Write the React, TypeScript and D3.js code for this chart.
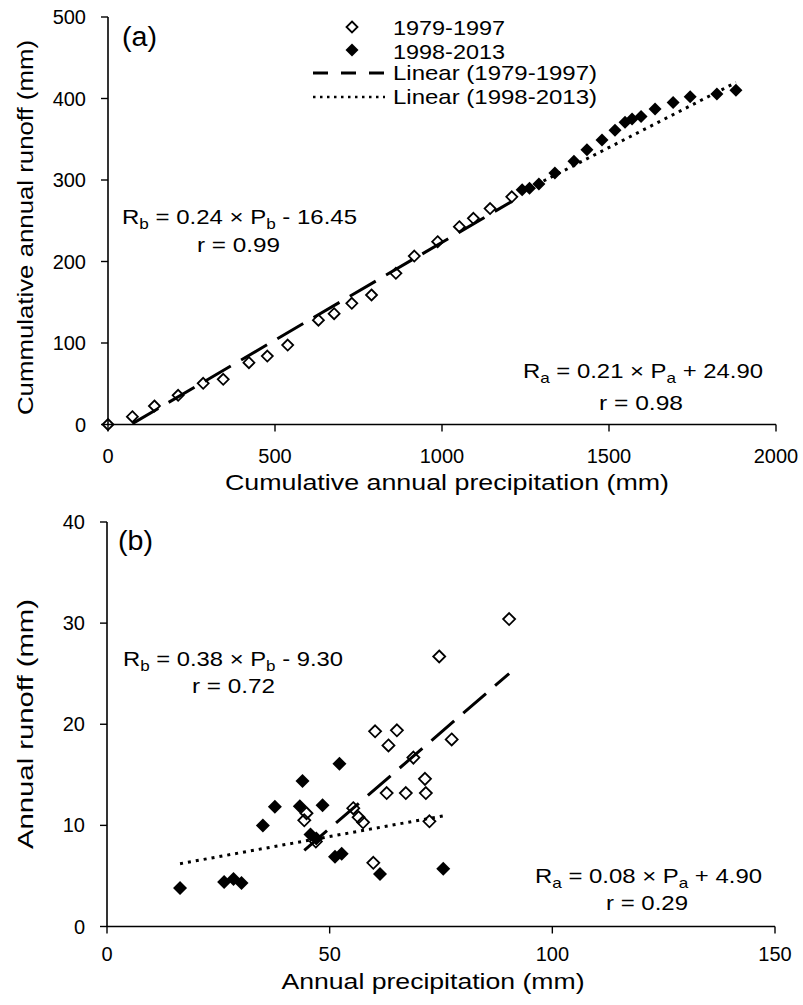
import React from 'react';
import * as d3 from 'd3';

// ---------- DATA ----------
// Panel (a): cumulative annual precipitation vs cumulative annual runoff (mm)
const cumPrecipEarly = [0, 73, 139, 210, 285, 345, 422, 477, 538, 630, 677, 730, 789, 862, 917, 987, 1052, 1094, 1144, 1209];
const cumRunoffEarly = [0, 9.6, 22.7, 35.8, 50.5, 55.4, 75.9, 84, 97.5, 128, 136, 148.7, 158.9, 185.5, 206.7, 224.3, 242.7, 253, 265, 279.4];
const cumPrecipLate = [1240, 1262, 1290, 1338, 1395, 1434, 1479, 1518, 1548, 1569, 1596, 1638, 1692, 1743, 1823, 1880];
const cumRunoffLate = [288, 290, 295, 308.6, 323, 337, 349, 361, 371, 375, 378, 387, 395, 402, 405.5, 410];

// Panel (b): annual precipitation vs annual runoff (mm)
const annPrecipEarly = [74.6, 60.2, 65.1, 63.2, 68.8, 71.4, 71.6, 67.1, 62.8, 72.4, 56.5, 57.5, 55.3, 44.8, 44.3, 46.9, 59.8, 90.3, 77.4];
const annRunoffEarly = [26.7, 19.3, 19.4, 17.9, 16.7, 14.6, 13.2, 13.2, 13.2, 10.4, 10.8, 10.3, 11.7, 11.2, 10.5, 8.4, 6.3, 30.4, 18.5];
const annPrecipLate = [16.4, 26.3, 28.4, 30.2, 35.0, 37.7, 43.9, 43.3, 48.4, 52.2, 45.7, 47.0, 51.2, 52.7, 61.3, 75.5];
const annRunoffLate = [3.8, 4.4, 4.7, 4.3, 10.0, 11.85, 14.4, 11.9, 12.0, 16.1, 9.1, 8.7, 6.9, 7.2, 5.2, 5.7];

// Linear fits [early, late]
const slopesA = [0.24, 0.21];
const interceptsA = [-16.45, 24.9];
const slopesB = [0.38, 0.08];
const interceptsB = [-9.3, 4.9];

// Ticks
const ticksAX = [0, 500, 1000, 1500, 2000];
const ticksAY = [0, 100, 200, 300, 400, 500];
const ticksBX = [0, 50, 100, 150];
const ticksBY = [0, 10, 20, 30, 40];

const legendLabels = ['1979-1997', '1998-2013', 'Linear (1979-1997)', 'Linear (1998-2013)'];

// ---------- STYLE ----------
const FONT = '"Liberation Sans", Arial, Helvetica, sans-serif';
const DASH = '30 12';
const DOT = '3 5';

const diamond = (r: number) => `M0,${-r}L${r},0L0,${r}L${-r},0Z`;

type Pt = [number, number];
const zip = (xs: number[], ys: number[]): Pt[] => xs.map((x, i) => [x, ys[i]]);

function Eq({ x, y, sub, rest, sign, len }: { x: number; y: number; sub: string; rest: [string, string]; sign: string; len: number }) {
  return (
    <text x={x} y={y} fontSize={21} fontFamily={FONT} textLength={len} lengthAdjust="spacingAndGlyphs">
      R<tspan fontSize={15} dy={5}>{sub}</tspan>
      <tspan dy={-5}>{rest[0]}</tspan>
      <tspan fontSize={15} dy={5}>{sub}</tspan>
      <tspan dy={-5}>{` ${sign} ${rest[1]}`}</tspan>
    </text>
  );
}

function Panel({
  xDomain, xRange, yDomain, yRange, xTicks, yTicks,
  early, late, slopes, intercepts, earlyFitX, lateFitX,
  rOpen, rFilled, xLabelY, label, labelPos,
}: any) {
  const x = d3.scaleLinear().domain(xDomain).range(xRange);
  const y = d3.scaleLinear().domain(yDomain).range(yRange);
  const line = d3.line<Pt>().x(d => x(d[0])).y(d => y(d[1]));
  const fitPts = (ext: number[], k: number, b: number): Pt[] => ext.map(v => [v, k * v + b]);
  const y0 = y(yDomain[0]);
  const x0 = x(xDomain[0]);
  return (
    <g>
      {/* axes */}
      <line x1={x0} x2={x(xDomain[1])} y1={y0} y2={y0} stroke="#000" strokeWidth={1.6} />
      <line x1={x0} x2={x0} y1={y0} y2={y(yDomain[1])} stroke="#000" strokeWidth={1.6} />
      {xTicks.map((t: number) => (
        <g key={'xt' + t}>
          <line x1={x(t)} x2={x(t)} y1={y0} y2={y0 + 7} stroke="#000" strokeWidth={1.4} />
          <text x={x(t)} y={xLabelY} fontSize={20} fontFamily={FONT} textAnchor="middle">{t}</text>
        </g>
      ))}
      {yTicks.map((t: number) => (
        <g key={'yt' + t}>
          <line x1={x0 - 7} x2={x0} y1={y(t)} y2={y(t)} stroke="#000" strokeWidth={1.4} />
          <text x={x0 - 22} y={y(t)} dy="0.35em" fontSize={20} fontFamily={FONT} textAnchor="end">{t}</text>
        </g>
      ))}
      {/* filled markers */}
      {late.map((d: Pt, i: number) => (
        <path key={'f' + i} d={diamond(rFilled)} transform={`translate(${x(d[0])},${y(d[1])})`} fill="#000" />
      ))}
      {/* open markers */}
      {early.map((d: Pt, i: number) => (
        <path key={'o' + i} d={diamond(rOpen)} transform={`translate(${x(d[0])},${y(d[1])})`} fill="none" stroke="#000" strokeWidth={1.8} />
      ))}
      {/* fits */}
      <path d={line(fitPts(earlyFitX, slopes[0], intercepts[0])) || ''} fill="none" stroke="#000" strokeWidth={3} strokeDasharray={DASH} />
      <path d={line(fitPts(lateFitX, slopes[1], intercepts[1])) || ''} fill="none" stroke="#000" strokeWidth={3} strokeDasharray={DOT} />
      <text x={labelPos[0]} y={labelPos[1]} fontSize={27} fontFamily={FONT} textLength={35} lengthAdjust="spacingAndGlyphs">{label}</text>
    </g>
  );
}

export default function App() {
  const earlyA = zip(cumPrecipEarly, cumRunoffEarly);
  const lateA = zip(cumPrecipLate, cumRunoffLate);
  const earlyB = zip(annPrecipEarly, annRunoffEarly);
  const lateB = zip(annPrecipLate, annRunoffLate);
  const extA0 = d3.extent(cumPrecipEarly.filter(v => v > 0)) as number[];
  const extA1 = d3.extent(cumPrecipLate) as number[];
  const extB0 = d3.extent(annPrecipEarly) as number[];
  const extB1 = d3.extent(annPrecipLate) as number[];

  return (
    <svg width={803} height={1005} style={{ position: 'absolute', left: 0, top: 0, background: '#fff' }}>
      <rect width={803} height={1005} fill="#fff" />
      <Panel
        xDomain={[0, 2000]} xRange={[108, 776]} yDomain={[0, 500]} yRange={[424.5, 17]}
        xTicks={ticksAX} yTicks={ticksAY} early={earlyA} late={lateA}
        slopes={slopesA} intercepts={interceptsA} earlyFitX={extA0} lateFitX={extA1}
        rOpen={5.5} rFilled={6.5} xLabelY={463} label="(a)" labelPos={[122, 46]}
      />
      <Panel
        xDomain={[0, 150]} xRange={[107, 775]} yDomain={[0, 40]} yRange={[926.5, 522]}
        xTicks={ticksBX} yTicks={ticksBY} early={earlyB} late={lateB}
        slopes={slopesB} intercepts={interceptsB} earlyFitX={extB0} lateFitX={extB1}
        rOpen={6} rFilled={7} xLabelY={961} label="(b)" labelPos={[118, 550]}
      />

      {/* axis titles */}
      <text x={447} y={490} fontSize={22} fontFamily={FONT} textAnchor="middle" textLength={444} lengthAdjust="spacingAndGlyphs">Cumulative annual precipitation (mm)</text>
      <text transform="translate(33,227.5) rotate(-90)" fontSize={22} fontFamily={FONT} textAnchor="middle" textLength={375} lengthAdjust="spacingAndGlyphs">Cummulative annual runoff (mm)</text>
      <text x={433} y={989} fontSize={22} fontFamily={FONT} textAnchor="middle" textLength={303} lengthAdjust="spacingAndGlyphs">Annual precipitation (mm)</text>
      <text transform="translate(33,724) rotate(-90)" fontSize={22} fontFamily={FONT} textAnchor="middle" textLength={250} lengthAdjust="spacingAndGlyphs">Annual runoff (mm)</text>

      {/* equations panel a */}
      <Eq x={122} y={224} sub="b" rest={[' = 0.24 × P', '16.45']} sign="-" len={235} />
      <text x={197} y={252} fontSize={21} fontFamily={FONT} textLength={83} lengthAdjust="spacingAndGlyphs">r = 0.99</text>
      <Eq x={523} y={378} sub="a" rest={[' = 0.21 × P', '24.90']} sign="+" len={240} />
      <text x={599} y={410} fontSize={21} fontFamily={FONT} textLength={84} lengthAdjust="spacingAndGlyphs">r = 0.98</text>

      {/* equations panel b */}
      <Eq x={123} y={666} sub="b" rest={[' = 0.38 × P', '9.30']} sign="-" len={220} />
      <text x={192} y={693} fontSize={21} fontFamily={FONT} textLength={83} lengthAdjust="spacingAndGlyphs">r = 0.72</text>
      <Eq x={535} y={883} sub="a" rest={[' = 0.08 × P', '4.90']} sign="+" len={227} />
      <text x={606} y={910} fontSize={21} fontFamily={FONT} textLength={82} lengthAdjust="spacingAndGlyphs">r = 0.29</text>

      {/* legend */}
      <g fontFamily={FONT} fontSize={21}>
        <path d={diamond(5.5)} transform="translate(352,27)" fill="none" stroke="#000" strokeWidth={1.8} />
        <text x={393} y={35} textLength={112} lengthAdjust="spacingAndGlyphs">{legendLabels[0]}</text>
        <path d={diamond(6.5)} transform="translate(352,50)" fill="#000" />
        <text x={393} y={58.5} textLength={112} lengthAdjust="spacingAndGlyphs">{legendLabels[1]}</text>
        <line x1={313} x2={385} y1={73} y2={73} stroke="#000" strokeWidth={3} strokeDasharray="15 13" />
        <text x={393} y={80} textLength={204} lengthAdjust="spacingAndGlyphs">{legendLabels[2]}</text>
        <line x1={313} x2={385} y1={97} y2={97} stroke="#000" strokeWidth={2.5} strokeDasharray="2.5 4.5" />
        <text x={393} y={104} textLength={204} lengthAdjust="spacingAndGlyphs">{legendLabels[3]}</text>
      </g>
    </svg>
  );
}
